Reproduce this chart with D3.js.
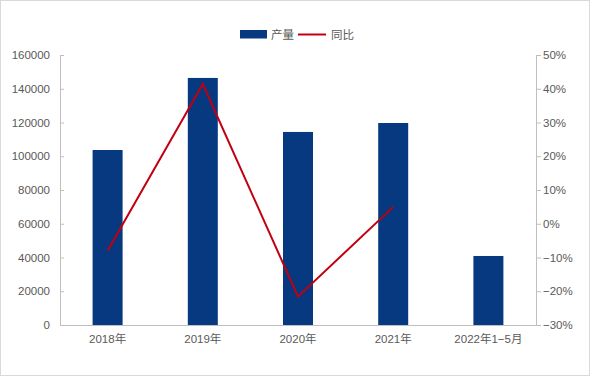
<!DOCTYPE html>
<html><head><meta charset="utf-8">
<script src="https://cdn.jsdelivr.net/npm/d3@7/dist/d3.min.js"></script>
<style>body{margin:0;background:#fff}svg{display:block;font-family:"Liberation Sans","Noto Sans CJK SC",sans-serif}</style>
</head><body><svg id="c" width="592" height="377"></svg>
<script>
const categories = ["2018年","2019年","2020年","2021年","2022年1−5月"];
const output = [103700, 146400, 114400, 119700, 40900];
const yoy = [-8.0, 41.4, -21.6, 5.0, null];
const leftTicks = [0,20000,40000,60000,80000,100000,120000,140000,160000];
const rightTicks = [-30,-20,-10,0,10,20,30,40,50];
const legendLabels = ["产量","同比"];

const svg = d3.select("#c");
const m = {l:60, r:536, t:55, b:325};
svg.append("rect").attr("x",0.5).attr("y",0.5).attr("width",589).attr("height",375)
  .attr("fill","#fff").attr("stroke","#d9d9d9");

const x = d3.scaleBand().domain(categories).range([m.l,m.r]);
const yL = d3.scaleLinear().domain([0,160000]).range([m.b,m.t]);
const yR = d3.scaleLinear().domain([-30,50]).range([m.b,m.t]);
const barColor = "#06397f", lineColor = "#c00011", axisColor = "#bfbfbf", textColor = "#595959";

// bars
svg.append("g").selectAll("rect").data(output).join("rect")
  .attr("x",(d,i)=>x(categories[i])+x.bandwidth()/2-15).attr("width",30)
  .attr("y",d=>yL(d)).attr("height",d=>yL(0)-yL(d)).attr("fill",barColor);

// axes
const gL = svg.append("g").attr("transform",`translate(${m.l},0)`)
  .call(d3.axisLeft(yL).tickValues(leftTicks).tickSize(-4).tickPadding(10).tickFormat(d3.format("d")));
const gR = svg.append("g").attr("transform",`translate(${m.r},0)`)
  .call(d3.axisRight(yR).tickValues(rightTicks).tickSize(5).tickPadding(2).tickFormat(d=>d3.format("d")(d)+"%"));
const gB = svg.append("g").attr("transform",`translate(0,${m.b})`)
  .call(d3.axisBottom(x).tickSize(0).tickPadding(10));
[gL,gR,gB].forEach(g=>{
  g.select(".domain").attr("stroke",axisColor);
  g.selectAll(".tick line").attr("stroke",axisColor);
  g.selectAll("text").attr("fill",textColor).style("font-size","11.5px")
    .style("font-family",'"Liberation Sans","Noto Sans CJK SC",sans-serif');
});

// line
const line = d3.line().defined(d=>d!=null)
  .x((d,i)=>x(categories[i])+x.bandwidth()/2).y(d=>yR(d));
svg.append("path").datum(yoy).attr("d",line).attr("fill","none")
  .attr("stroke",lineColor).attr("stroke-width",2).attr("stroke-linejoin","miter");

// legend
const lg = svg.append("g");
lg.append("rect").attr("x",240).attr("y",30).attr("width",27).attr("height",8.5).attr("fill",barColor);
lg.append("text").attr("x",271).attr("y",38.5).text(legendLabels[0]).attr("fill",textColor).style("font-size","11.5px");
lg.append("line").attr("x1",298).attr("x2",326).attr("y1",34.5).attr("y2",34.5).attr("stroke",lineColor).attr("stroke-width",2);
lg.append("text").attr("x",331).attr("y",38.5).text(legendLabels[1]).attr("fill",textColor).style("font-size","11.5px");
</script></body></html>
